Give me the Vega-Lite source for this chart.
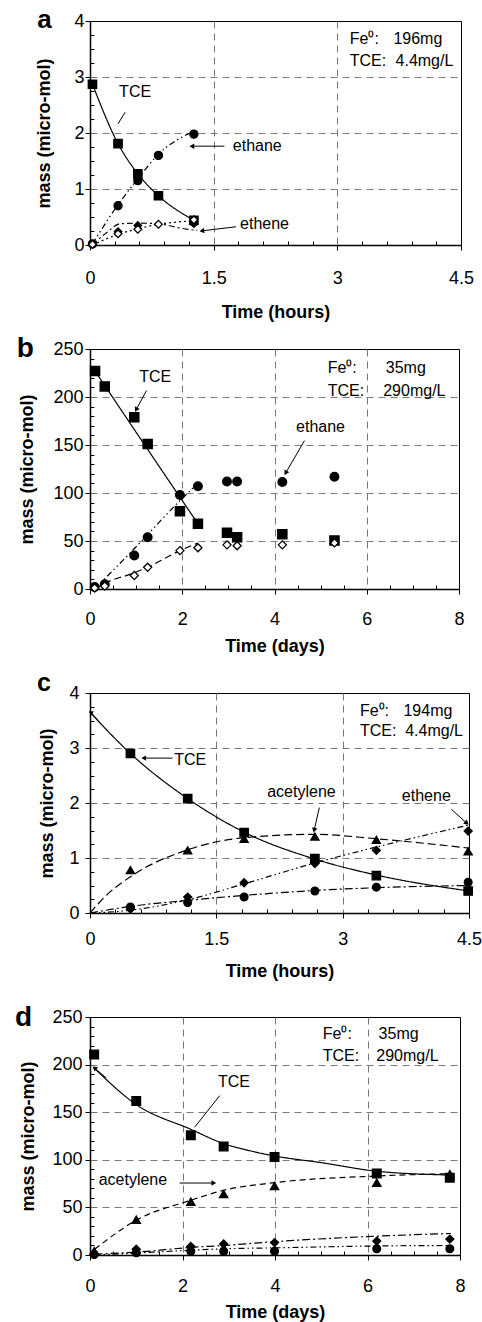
{
"$schema":"https://vega.github.io/schema/vega-lite/v6.json",
"padding":{"left":14,"top":6,"right":0,"bottom":0},
"autosize":{"type":"pad"},
"bounds":"flush",
"spacing":104,
"resolve":{"scale":{"x":"independent","y":"independent","strokeDash":"independent","shape":"independent","fill":"independent","size":"independent"}},
"config":{
 "view":{"stroke":"black","strokeWidth":1},
 "axis":{"labelFont":"Liberation Sans","titleFont":"Liberation Sans","labelColor":"black","titleColor":"black","labelFontSize":18,"titleFontSize":18,"titleFontWeight":"bold","domainColor":"black","domainWidth":1.5,"tickColor":"black","tickWidth":1,"gridColor":"#777","gridDash":[7,5],"gridWidth":1,"labelFlush":false,"labelOverlap":false,"labelBound":false},
 "text":{"font":"Liberation Sans","color":"black"}
},
"datasets":{
"obs":[
{"panel":"a","species":"TCE","t":0.03,"m":2.87},{"panel":"a","species":"TCE","t":0.34,"m":1.81},{"panel":"a","species":"TCE","t":0.58,"m":1.27},{"panel":"a","species":"TCE","t":0.83,"m":0.88},{"panel":"a","species":"TCE","t":1.26,"m":0.44},
{"panel":"a","species":"ethane","t":0.03,"m":0.02},{"panel":"a","species":"ethane","t":0.34,"m":0.70},{"panel":"a","species":"ethane","t":0.58,"m":1.15},{"panel":"a","species":"ethane","t":0.83,"m":1.60},{"panel":"a","species":"ethane","t":1.26,"m":1.98},
{"panel":"a","species":"unlabeled","t":0.34,"m":0.24},{"panel":"a","species":"unlabeled","t":0.58,"m":0.35},{"panel":"a","species":"unlabeled","t":1.26,"m":0.38},
{"panel":"a","species":"ethene","t":0.03,"m":0.01},{"panel":"a","species":"ethene","t":0.34,"m":0.20},{"panel":"a","species":"ethene","t":0.58,"m":0.28},{"panel":"a","species":"ethene","t":0.83,"m":0.37},{"panel":"a","species":"ethene","t":1.26,"m":0.45},
{"panel":"b","species":"TCE","t":0.11,"m":227},{"panel":"b","species":"TCE","t":0.32,"m":211},{"panel":"b","species":"TCE","t":0.96,"m":179},{"panel":"b","species":"TCE","t":1.25,"m":151},{"panel":"b","species":"TCE","t":1.95,"m":81},{"panel":"b","species":"TCE","t":2.34,"m":68},{"panel":"b","species":"TCE","t":2.97,"m":58.5},{"panel":"b","species":"TCE","t":3.19,"m":54},{"panel":"b","species":"TCE","t":4.17,"m":57},{"panel":"b","species":"TCE","t":5.3,"m":50.5},
{"panel":"b","species":"ethane","t":0.1,"m":2},{"panel":"b","species":"ethane","t":0.32,"m":5},{"panel":"b","species":"ethane","t":0.96,"m":35},{"panel":"b","species":"ethane","t":1.25,"m":54},{"panel":"b","species":"ethane","t":1.95,"m":98},{"panel":"b","species":"ethane","t":2.34,"m":107},{"panel":"b","species":"ethane","t":2.97,"m":112},{"panel":"b","species":"ethane","t":3.19,"m":112},{"panel":"b","species":"ethane","t":4.17,"m":111.5},{"panel":"b","species":"ethane","t":5.3,"m":117},
{"panel":"b","species":"ethene","t":0.1,"m":1},{"panel":"b","species":"ethene","t":0.32,"m":3},{"panel":"b","species":"ethene","t":0.96,"m":14},{"panel":"b","species":"ethene","t":1.25,"m":22.6},{"panel":"b","species":"ethene","t":1.95,"m":40},{"panel":"b","species":"ethene","t":2.34,"m":43},{"panel":"b","species":"ethene","t":2.97,"m":46},{"panel":"b","species":"ethene","t":3.19,"m":45},{"panel":"b","species":"ethene","t":4.17,"m":46},{"panel":"b","species":"ethene","t":5.3,"m":48},
{"panel":"c","species":"TCE","t":0.48,"m":2.90},{"panel":"c","species":"TCE","t":1.16,"m":2.08},{"panel":"c","species":"TCE","t":1.83,"m":1.46},{"panel":"c","species":"TCE","t":2.67,"m":0.99},{"panel":"c","species":"TCE","t":3.40,"m":0.68},{"panel":"c","species":"TCE","t":4.49,"m":0.40},
{"panel":"c","species":"acetylene","t":0.48,"m":0.78},{"panel":"c","species":"acetylene","t":1.16,"m":1.14},{"panel":"c","species":"acetylene","t":1.83,"m":1.35},{"panel":"c","species":"acetylene","t":2.67,"m":1.39},{"panel":"c","species":"acetylene","t":3.40,"m":1.33},{"panel":"c","species":"acetylene","t":4.49,"m":1.12},
{"panel":"c","species":"ethene","t":0.48,"m":0.07},{"panel":"c","species":"ethene","t":1.16,"m":0.29},{"panel":"c","species":"ethene","t":1.83,"m":0.55},{"panel":"c","species":"ethene","t":2.67,"m":0.90},{"panel":"c","species":"ethene","t":3.40,"m":1.14},{"panel":"c","species":"ethene","t":4.49,"m":1.49},
{"panel":"c","species":"ethane","t":0.48,"m":0.11},{"panel":"c","species":"ethane","t":1.16,"m":0.19},{"panel":"c","species":"ethane","t":1.83,"m":0.29},{"panel":"c","species":"ethane","t":2.67,"m":0.40},{"panel":"c","species":"ethane","t":3.40,"m":0.47},{"panel":"c","species":"ethane","t":4.49,"m":0.56},
{"panel":"d","species":"TCE","t":0.09,"m":210.6},{"panel":"d","species":"TCE","t":1.0,"m":161.7},{"panel":"d","species":"TCE","t":2.18,"m":125.7},{"panel":"d","species":"TCE","t":2.89,"m":114},{"panel":"d","species":"TCE","t":3.99,"m":103},{"panel":"d","species":"TCE","t":6.2,"m":85.5},{"panel":"d","species":"TCE","t":7.78,"m":81.2},
{"panel":"d","species":"acetylene","t":0.09,"m":4},{"panel":"d","species":"acetylene","t":1.0,"m":37},{"panel":"d","species":"acetylene","t":2.18,"m":56},{"panel":"d","species":"acetylene","t":2.89,"m":64},{"panel":"d","species":"acetylene","t":3.99,"m":72.5},{"panel":"d","species":"acetylene","t":6.2,"m":76},{"panel":"d","species":"acetylene","t":7.78,"m":85},
{"panel":"d","species":"ethene","t":0.09,"m":1},{"panel":"d","species":"ethene","t":1.0,"m":6},{"panel":"d","species":"ethene","t":2.18,"m":9},{"panel":"d","species":"ethene","t":2.89,"m":11.5},{"panel":"d","species":"ethene","t":3.99,"m":13},{"panel":"d","species":"ethene","t":6.2,"m":14.6},{"panel":"d","species":"ethene","t":7.78,"m":16.7},
{"panel":"d","species":"ethane","t":0.09,"m":0.5},{"panel":"d","species":"ethane","t":1.0,"m":2.4},{"panel":"d","species":"ethane","t":2.18,"m":4},{"panel":"d","species":"ethane","t":2.89,"m":4},{"panel":"d","species":"ethane","t":3.99,"m":4},{"panel":"d","species":"ethane","t":6.2,"m":6.5},{"panel":"d","species":"ethane","t":7.78,"m":6.5}
],
"fit":[
{"panel":"a","species":"TCE","t":0.03,"m":2.87},{"panel":"a","species":"TCE","t":0.34,"m":1.81},{"panel":"a","species":"TCE","t":0.58,"m":1.27},{"panel":"a","species":"TCE","t":0.83,"m":0.88},{"panel":"a","species":"TCE","t":1.26,"m":0.44},
{"panel":"a","species":"ethane","t":0.03,"m":0.02},{"panel":"a","species":"ethane","t":0.34,"m":0.72},{"panel":"a","species":"ethane","t":0.58,"m":1.18},{"panel":"a","species":"ethane","t":0.83,"m":1.62},{"panel":"a","species":"ethane","t":1.29,"m":2.05},
{"panel":"a","species":"ethene","t":0.03,"m":0.0},{"panel":"a","species":"ethene","t":0.34,"m":0.19},{"panel":"a","species":"ethene","t":0.58,"m":0.29},{"panel":"a","species":"ethene","t":0.83,"m":0.37},{"panel":"a","species":"ethene","t":1.26,"m":0.43},
{"panel":"a","species":"unlabeled","t":0.03,"m":0.0},{"panel":"a","species":"unlabeled","t":0.2,"m":0.22},{"panel":"a","species":"unlabeled","t":0.37,"m":0.38},{"panel":"a","species":"unlabeled","t":0.6,"m":0.39},{"panel":"a","species":"unlabeled","t":0.83,"m":0.38},{"panel":"a","species":"unlabeled","t":1.1,"m":0.30},{"panel":"a","species":"unlabeled","t":1.3,"m":0.26},
{"panel":"b","species":"TCE","t":0.11,"m":227},{"panel":"b","species":"TCE","t":1.2,"m":149},{"panel":"b","species":"TCE","t":2.34,"m":68},
{"panel":"b","species":"ethane","t":0.1,"m":0},{"panel":"b","species":"ethane","t":1.0,"m":44},{"panel":"b","species":"ethane","t":1.95,"m":92},{"panel":"b","species":"ethane","t":2.34,"m":110},
{"panel":"b","species":"ethene","t":0.1,"m":0},{"panel":"b","species":"ethene","t":0.32,"m":6},{"panel":"b","species":"ethene","t":0.97,"m":17},{"panel":"b","species":"ethene","t":1.26,"m":23},{"panel":"b","species":"ethene","t":1.95,"m":40},{"panel":"b","species":"ethene","t":2.34,"m":48},
{"panel":"c","species":"TCE","t":0,"m":3.65},{"panel":"c","species":"TCE","t":0.48,"m":2.90},{"panel":"c","species":"TCE","t":1.16,"m":2.08},{"panel":"c","species":"TCE","t":1.83,"m":1.47},{"panel":"c","species":"TCE","t":2.67,"m":0.98},{"panel":"c","species":"TCE","t":3.4,"m":0.69},{"panel":"c","species":"TCE","t":4.5,"m":0.40},
{"panel":"c","species":"acetylene","t":0,"m":0},{"panel":"c","species":"acetylene","t":0.2,"m":0.33},{"panel":"c","species":"acetylene","t":0.48,"m":0.66},{"panel":"c","species":"acetylene","t":1.16,"m":1.15},{"panel":"c","species":"acetylene","t":1.83,"m":1.37},{"panel":"c","species":"acetylene","t":2.67,"m":1.43},{"panel":"c","species":"acetylene","t":3.4,"m":1.35},{"panel":"c","species":"acetylene","t":4.5,"m":1.18},
{"panel":"c","species":"ethene","t":0,"m":0},{"panel":"c","species":"ethene","t":0.48,"m":0.05},{"panel":"c","species":"ethene","t":1.16,"m":0.24},{"panel":"c","species":"ethene","t":1.83,"m":0.53},{"panel":"c","species":"ethene","t":2.67,"m":0.91},{"panel":"c","species":"ethene","t":3.4,"m":1.2},{"panel":"c","species":"ethene","t":4.5,"m":1.6},
{"panel":"c","species":"ethane","t":0,"m":0},{"panel":"c","species":"ethane","t":0.48,"m":0.12},{"panel":"c","species":"ethane","t":1.16,"m":0.23},{"panel":"c","species":"ethane","t":1.83,"m":0.32},{"panel":"c","species":"ethane","t":2.67,"m":0.41},{"panel":"c","species":"ethane","t":3.4,"m":0.46},{"panel":"c","species":"ethane","t":4.5,"m":0.5},
{"panel":"d","species":"TCE","t":0.12,"m":195},{"panel":"d","species":"TCE","t":1.0,"m":158},{"panel":"d","species":"TCE","t":2.18,"m":132},{"panel":"d","species":"TCE","t":2.89,"m":117},{"panel":"d","species":"TCE","t":3.5,"m":109},{"panel":"d","species":"TCE","t":3.99,"m":104},{"panel":"d","species":"TCE","t":5.0,"m":97},{"panel":"d","species":"TCE","t":6.2,"m":88},{"panel":"d","species":"TCE","t":7.8,"m":84},
{"panel":"d","species":"acetylene","t":0.1,"m":6},{"panel":"d","species":"acetylene","t":1.0,"m":36.6},{"panel":"d","species":"acetylene","t":2.18,"m":57.5},{"panel":"d","species":"acetylene","t":2.89,"m":68},{"panel":"d","species":"acetylene","t":3.99,"m":76},{"panel":"d","species":"acetylene","t":6.2,"m":83},{"panel":"d","species":"acetylene","t":7.8,"m":85.4},
{"panel":"d","species":"ethene","t":0.1,"m":1},{"panel":"d","species":"ethene","t":1.0,"m":3},{"panel":"d","species":"ethene","t":2.18,"m":8},{"panel":"d","species":"ethene","t":2.89,"m":10},{"panel":"d","species":"ethene","t":3.99,"m":14},{"panel":"d","species":"ethene","t":6.2,"m":19.8},{"panel":"d","species":"ethene","t":7.8,"m":22.6},
{"panel":"d","species":"ethane","t":0.1,"m":0},{"panel":"d","species":"ethane","t":1.0,"m":2},{"panel":"d","species":"ethane","t":2.18,"m":5},{"panel":"d","species":"ethane","t":2.89,"m":6.5},{"panel":"d","species":"ethane","t":3.99,"m":7.5},{"panel":"d","species":"ethane","t":6.2,"m":9.5},{"panel":"d","species":"ethane","t":7.8,"m":10}
],
"notes":[
{"panel":"a","text":"TCE","t":0.353,"m":2.725},{"panel":"a","text":"ethane","t":1.732,"m":1.765},{"panel":"a","text":"ethene","t":1.82,"m":0.368},{"panel":"a","text":"Fe⁰:","t":3.151,"m":3.685},{"panel":"a","text":"196mg","t":3.68,"m":3.685},{"panel":"a","text":"TCE:","t":3.151,"m":3.289},{"panel":"a","text":"4.4mg/L","t":3.706,"m":3.289},
{"panel":"b","text":"TCE","t":1.066,"m":220.4},{"panel":"b","text":"ethane","t":4.467,"m":169},{"panel":"b","text":"Fe⁰:","t":5.153,"m":229.8},{"panel":"b","text":"35mg","t":6.413,"m":229.8},{"panel":"b","text":"TCE:","t":5.153,"m":206.6},{"panel":"b","text":"290mg/L","t":6.357,"m":206.6},
{"panel":"c","text":"TCE","t":0.999,"m":2.785},{"panel":"c","text":"acetylene","t":2.104,"m":2.208},{"panel":"c","text":"ethene","t":3.703,"m":2.128},{"panel":"c","text":"Fe⁰:","t":3.205,"m":3.668},{"panel":"c","text":"194mg","t":3.722,"m":3.668},{"panel":"c","text":"TCE:","t":3.205,"m":3.303},{"panel":"c","text":"4.4mg/L","t":3.742,"m":3.303},
{"panel":"d","text":"TCE","t":2.768,"m":181.3},{"panel":"d","text":"acetylene","t":0.187,"m":78.5},{"panel":"d","text":"Fe⁰:","t":5.033,"m":232.5},{"panel":"d","text":"35mg","t":6.24,"m":232.5},{"panel":"d","text":"TCE:","t":5.033,"m":209.2},{"panel":"d","text":"290mg/L","t":6.19,"m":209.2}
],
"letters":[
{"panel":"a","text":"a","t":-0.641,"m":3.88},{"panel":"b","text":"b","t":-1.587,"m":241.2},{"panel":"c","text":"c","t":-0.628,"m":4.044},{"panel":"d","text":"d","t":-1.62,"m":240.6}
],
"arrows":[
{"panel":"a","id":"tce","t":0.34,"m":2.164,"t2":0.426,"m2":2.37},
{"panel":"a","id":"ethane","t":1.63,"m":1.765,"t2":1.245,"m2":1.765},
{"panel":"a","id":"ethene","t":1.771,"m":0.325,"t2":1.366,"m2":0.254},
{"panel":"b","id":"tce","t":1.224,"m":206.6,"t2":1.008,"m2":187.5},
{"panel":"b","id":"ethane","t":4.649,"m":154.5,"t2":4.251,"m2":121.5},
{"panel":"c","id":"tce","t":0.979,"m":2.816,"t2":0.647,"m2":2.816},
{"panel":"c","id":"acetylene","t":2.723,"m":1.916,"t2":2.664,"m2":1.52},
{"panel":"c","id":"ethene","t":4.291,"m":1.885,"t2":4.467,"m2":1.642},
{"panel":"c","id":"tcefit","t":0.1,"m":3.5,"t2":0.015,"m2":3.64},
{"panel":"d","id":"tce","t":2.805,"m":167.4,"t2":2.262,"m2":134.2},
{"panel":"d","id":"acetylene","t":1.937,"m":75.6,"t2":2.66,"m2":75.6},
{"panel":"d","id":"tcefit","t":0.35,"m":186,"t2":0.11,"m2":196}
]
},
"vconcat":[
{
"width":371,"height":224,
"encoding":{
 "x":{"field":"t","type":"quantitative","scale":{"domain":[0,4.5],"nice":false,"zero":false},"axis":{"values":[0,0.3,0.6,0.9,1.2,1.5,1.8,2.1,2.4,2.7,3,3.3,3.6,3.9,4.2,4.5],"labelExpr":"datum.value % 1.5 == 0 ? '' + datum.value : ''","tickSize":{"condition":{"test":"datum.value % 1.5 == 0","value":5},"value":-4},"grid":true,"gridOpacity":{"condition":{"test":"datum.value % 1.5 == 0 && datum.value > 0 && datum.value < 4.5","value":1},"value":0},"labelPadding":19,"title":"Time (hours)","titleY":67,"titleBaseline":"middle"}},
 "y":{"field":"m","type":"quantitative","scale":{"domain":[0,4],"nice":false,"zero":false},"axis":{"values":[0,0.25,0.5,0.75,1,1.25,1.5,1.75,2,2.25,2.5,2.75,3,3.25,3.5,3.75,4],"labelExpr":"datum.value % 1 == 0 ? '' + datum.value : ''","tickSize":{"condition":{"test":"datum.value % 1 == 0","value":5},"value":-4},"grid":true,"gridOpacity":{"condition":{"test":"datum.value % 1 == 0 && datum.value > 0 && datum.value < 4","value":1},"value":0},"labelPadding":1,"title":"mass (micro-mol)","titleX":-46,"titleBaseline":"middle"}}
},
"layer":[
 {"data":{"name":"fit"},"transform":[{"filter":"datum.panel == 'a'"}],"mark":{"type":"line","interpolate":"monotone","color":"black","strokeWidth":1.2},"encoding":{"strokeDash":{"field":"species","type":"nominal","scale":{"domain":["TCE","ethane","ethene","unlabeled"],"range":[[1,0],[6,3,1.5,3,1.5,3],[2,3],[6,3,2,3]]},"legend":null}}},
 {"data":{"name":"arrows"},"transform":[{"filter":"datum.panel == 'a'"}],"mark":{"type":"rule","color":"black","strokeWidth":1},"encoding":{"x2":{"field":"t2"},"y2":{"field":"m2"}}},
 {"data":{"name":"arrows"},"transform":[{"filter":"datum.panel == 'a' && datum.id == 'ethane'"}],"mark":{"type":"point","shape":"triangle","filled":true,"color":"black","opacity":1,"size":30,"angle":270},"encoding":{"x":{"field":"t2","type":"quantitative"},"y":{"field":"m2","type":"quantitative"}}},
 {"data":{"name":"arrows"},"transform":[{"filter":"datum.panel == 'a' && datum.id == 'ethene'"}],"mark":{"type":"point","shape":"triangle","filled":true,"color":"black","opacity":1,"size":30,"angle":263},"encoding":{"x":{"field":"t2","type":"quantitative"},"y":{"field":"m2","type":"quantitative"}}},
 {"data":{"name":"obs"},"transform":[{"filter":"datum.panel == 'a'"}],"mark":{"type":"point","filled":true,"stroke":"black","strokeWidth":1.3,"opacity":1},"encoding":{"shape":{"field":"species","type":"nominal","scale":{"domain":["TCE","ethane","ethene","unlabeled"],"range":["square","circle","diamond","diamond"]},"legend":null},"fill":{"field":"species","type":"nominal","scale":{"domain":["TCE","ethane","ethene","unlabeled"],"range":["black","black","white","black"]},"legend":null},"size":{"field":"species","type":"nominal","scale":{"domain":["TCE","ethane","ethene","unlabeled"],"range":[70,55,50,50]},"legend":null}}},
 {"data":{"name":"notes"},"transform":[{"filter":"datum.panel == 'a'"}],"mark":{"type":"text","align":"left","baseline":"middle","fontSize":16},"encoding":{"text":{"field":"text"}}},
 {"data":{"name":"letters"},"transform":[{"filter":"datum.panel == 'a'"}],"mark":{"type":"text","align":"left","baseline":"alphabetic","fontSize":26,"fontWeight":"bold"},"encoding":{"text":{"field":"text"}}}
]
},
{
"width":369,"height":240,
"encoding":{
 "x":{"field":"t","type":"quantitative","scale":{"domain":[0,8],"nice":false,"zero":false},"axis":{"values":[0,0.5,1,1.5,2,2.5,3,3.5,4,4.5,5,5.5,6,6.5,7,7.5,8],"labelExpr":"datum.value % 2 == 0 ? '' + datum.value : ''","tickSize":{"condition":{"test":"datum.value % 2 == 0","value":5},"value":-4},"grid":true,"gridOpacity":{"condition":{"test":"datum.value % 2 == 0 && datum.value > 0 && datum.value < 8","value":1},"value":0},"labelPadding":16,"title":"Time (days)","titleY":57,"titleBaseline":"middle"}},
 "y":{"field":"m","type":"quantitative","scale":{"domain":[0,250],"nice":false,"zero":false},"axis":{"values":[0,10,20,30,40,50,60,70,80,90,100,110,120,130,140,150,160,170,180,190,200,210,220,230,240,250],"labelExpr":"datum.value % 50 == 0 ? '' + datum.value : ''","tickSize":{"condition":{"test":"datum.value % 50 == 0","value":5},"value":-4},"grid":true,"gridOpacity":{"condition":{"test":"datum.value % 50 == 0 && datum.value > 0 && datum.value < 250","value":1},"value":0},"labelPadding":2,"title":"mass (micro-mol)","titleX":-63,"titleBaseline":"middle"}}
},
"layer":[
 {"data":{"name":"fit"},"transform":[{"filter":"datum.panel == 'b'"}],"mark":{"type":"line","interpolate":"monotone","color":"black","strokeWidth":1.2},"encoding":{"strokeDash":{"field":"species","type":"nominal","scale":{"domain":["TCE","ethane","ethene"],"range":[[1,0],[6,3,1.5,3,1.5,3],[7,4]]},"legend":null}}},
 {"data":{"name":"arrows"},"transform":[{"filter":"datum.panel == 'b'"}],"mark":{"type":"rule","color":"black","strokeWidth":1},"encoding":{"x2":{"field":"t2"},"y2":{"field":"m2"}}},
 {"data":{"name":"arrows"},"transform":[{"filter":"datum.panel == 'b' && datum.id == 'tce'"}],"mark":{"type":"point","shape":"triangle","filled":true,"color":"black","opacity":1,"size":30,"angle":209},"encoding":{"x":{"field":"t2","type":"quantitative"},"y":{"field":"m2","type":"quantitative"}}},
 {"data":{"name":"arrows"},"transform":[{"filter":"datum.panel == 'b' && datum.id == 'ethane'"}],"mark":{"type":"point","shape":"triangle","filled":true,"color":"black","opacity":1,"size":30,"angle":210},"encoding":{"x":{"field":"t2","type":"quantitative"},"y":{"field":"m2","type":"quantitative"}}},
 {"data":{"name":"obs"},"transform":[{"filter":"datum.panel == 'b'"}],"mark":{"type":"point","filled":true,"stroke":"black","strokeWidth":1.3,"opacity":1},"encoding":{"shape":{"field":"species","type":"nominal","scale":{"domain":["TCE","ethane","ethene"],"range":["square","circle","diamond"]},"legend":null},"fill":{"field":"species","type":"nominal","scale":{"domain":["TCE","ethane","ethene"],"range":["black","black","white"]},"legend":null},"size":{"field":"species","type":"nominal","scale":{"domain":["TCE","ethane","ethene"],"range":[85,65,55]},"legend":null}}},
 {"data":{"name":"notes"},"transform":[{"filter":"datum.panel == 'b'"}],"mark":{"type":"text","align":"left","baseline":"middle","fontSize":16},"encoding":{"text":{"field":"text"}}},
 {"data":{"name":"letters"},"transform":[{"filter":"datum.panel == 'b'"}],"mark":{"type":"text","align":"left","baseline":"alphabetic","fontSize":28,"fontWeight":"bold"},"encoding":{"text":{"field":"text"}}}
]
},
{
"width":379,"height":220,
"encoding":{
 "x":{"field":"t","type":"quantitative","scale":{"domain":[0,4.5],"nice":false,"zero":false},"axis":{"values":[0,0.3,0.6,0.9,1.2,1.5,1.8,2.1,2.4,2.7,3,3.3,3.6,3.9,4.2,4.5],"labelExpr":"datum.value % 1.5 == 0 ? '' + datum.value : ''","tickSize":{"condition":{"test":"datum.value % 1.5 == 0","value":5},"value":-4},"grid":true,"gridOpacity":{"condition":{"test":"datum.value % 1.5 == 0 && datum.value > 0 && datum.value < 4.5","value":1},"value":0},"labelPadding":12,"title":"Time (hours)","titleY":58,"titleBaseline":"middle"}},
 "y":{"field":"m","type":"quantitative","scale":{"domain":[0,4],"nice":false,"zero":false},"axis":{"values":[0,0.25,0.5,0.75,1,1.25,1.5,1.75,2,2.25,2.5,2.75,3,3.25,3.5,3.75,4],"labelExpr":"datum.value % 1 == 0 ? '' + datum.value : ''","tickSize":{"condition":{"test":"datum.value % 1 == 0","value":5},"value":-4},"grid":true,"gridOpacity":{"condition":{"test":"datum.value % 1 == 0 && datum.value > 0 && datum.value < 4","value":1},"value":0},"labelPadding":6,"title":"mass (micro-mol)","titleX":-43,"titleBaseline":"middle"}}
},
"layer":[
 {"data":{"name":"fit"},"transform":[{"filter":"datum.panel == 'c'"}],"mark":{"type":"line","interpolate":"monotone","color":"black","strokeWidth":1.2},"encoding":{"strokeDash":{"field":"species","type":"nominal","scale":{"domain":["TCE","acetylene","ethene","ethane"],"range":[[1,0],[8,4],[6,3,1.5,3,1.5,3],[8,3,2,3]]},"legend":null}}},
 {"data":{"name":"arrows"},"transform":[{"filter":"datum.panel == 'c'"}],"mark":{"type":"rule","color":"black","strokeWidth":1},"encoding":{"x2":{"field":"t2"},"y2":{"field":"m2"}}},
 {"data":{"name":"arrows"},"transform":[{"filter":"datum.panel == 'c' && datum.id == 'tce'"}],"mark":{"type":"point","shape":"triangle","filled":true,"color":"black","opacity":1,"size":30,"angle":270},"encoding":{"x":{"field":"t2","type":"quantitative"},"y":{"field":"m2","type":"quantitative"}}},
 {"data":{"name":"arrows"},"transform":[{"filter":"datum.panel == 'c' && datum.id == 'acetylene'"}],"mark":{"type":"point","shape":"triangle","filled":true,"color":"black","opacity":1,"size":30,"angle":193},"encoding":{"x":{"field":"t2","type":"quantitative"},"y":{"field":"m2","type":"quantitative"}}},
 {"data":{"name":"arrows"},"transform":[{"filter":"datum.panel == 'c' && datum.id == 'ethene'"}],"mark":{"type":"point","shape":"triangle","filled":true,"color":"black","opacity":1,"size":30,"angle":132},"encoding":{"x":{"field":"t2","type":"quantitative"},"y":{"field":"m2","type":"quantitative"}}},
 {"data":{"name":"arrows"},"transform":[{"filter":"datum.panel == 'c' && datum.id == 'tcefit'"}],"mark":{"type":"point","shape":"triangle","filled":true,"color":"black","opacity":1,"size":25,"angle":300},"encoding":{"x":{"field":"t2","type":"quantitative"},"y":{"field":"m2","type":"quantitative"}}},
 {"data":{"name":"obs"},"transform":[{"filter":"datum.panel == 'c'"}],"mark":{"type":"point","filled":true,"stroke":"black","strokeWidth":1.3,"opacity":1},"encoding":{"shape":{"field":"species","type":"nominal","scale":{"domain":["TCE","acetylene","ethene","ethane"],"range":["square","triangle-up","diamond","circle"]},"legend":null},"fill":{"field":"species","type":"nominal","scale":{"domain":["TCE","acetylene","ethene","ethane"],"range":["black","black","black","black"]},"legend":null},"size":{"field":"species","type":"nominal","scale":{"domain":["TCE","acetylene","ethene","ethane"],"range":[70,60,50,55]},"legend":null}}},
 {"data":{"name":"notes"},"transform":[{"filter":"datum.panel == 'c'"}],"mark":{"type":"text","align":"left","baseline":"middle","fontSize":16},"encoding":{"text":{"field":"text"}}},
 {"data":{"name":"letters"},"transform":[{"filter":"datum.panel == 'c'"}],"mark":{"type":"text","align":"left","baseline":"alphabetic","fontSize":25,"fontWeight":"bold"},"encoding":{"text":{"field":"text"}}}
]
},
{
"width":370,"height":238,
"encoding":{
 "x":{"field":"t","type":"quantitative","scale":{"domain":[0,8],"nice":false,"zero":false},"axis":{"values":[0,0.5,1,1.5,2,2.5,3,3.5,4,4.5,5,5.5,6,6.5,7,7.5,8],"labelExpr":"datum.value % 2 == 0 ? '' + datum.value : ''","tickSize":{"condition":{"test":"datum.value % 2 == 0","value":5},"value":-4},"grid":true,"gridOpacity":{"condition":{"test":"datum.value % 2 == 0 && datum.value > 0 && datum.value < 8","value":1},"value":0},"labelPadding":17,"title":"Time (days)","titleY":57,"titleBaseline":"middle"}},
 "y":{"field":"m","type":"quantitative","scale":{"domain":[0,250],"nice":false,"zero":false},"axis":{"values":[0,10,20,30,40,50,60,70,80,90,100,110,120,130,140,150,160,170,180,190,200,210,220,230,240,250],"labelExpr":"datum.value % 50 == 0 ? '' + datum.value : ''","tickSize":{"condition":{"test":"datum.value % 50 == 0","value":5},"value":-4},"grid":true,"gridOpacity":{"condition":{"test":"datum.value % 50 == 0 && datum.value > 0 && datum.value < 250","value":1},"value":0},"labelPadding":3,"title":"mass (micro-mol)","titleX":-62,"titleBaseline":"middle"}}
},
"layer":[
 {"data":{"name":"fit"},"transform":[{"filter":"datum.panel == 'd'"}],"mark":{"type":"line","interpolate":"monotone","color":"black","strokeWidth":1.2},"encoding":{"strokeDash":{"field":"species","type":"nominal","scale":{"domain":["TCE","acetylene","ethene","ethane"],"range":[[1,0],[6,4],[8,3,2,3],[6,3,1.5,3,1.5,3]]},"legend":null}}},
 {"data":{"name":"arrows"},"transform":[{"filter":"datum.panel == 'd'"}],"mark":{"type":"rule","color":"black","strokeWidth":1},"encoding":{"x2":{"field":"t2"},"y2":{"field":"m2"}}},
 {"data":{"name":"arrows"},"transform":[{"filter":"datum.panel == 'd' && datum.id == 'acetylene'"}],"mark":{"type":"point","shape":"triangle","filled":true,"color":"black","opacity":1,"size":30,"angle":90},"encoding":{"x":{"field":"t2","type":"quantitative"},"y":{"field":"m2","type":"quantitative"}}},
 {"data":{"name":"arrows"},"transform":[{"filter":"datum.panel == 'd' && datum.id == 'tcefit'"}],"mark":{"type":"point","shape":"triangle","filled":true,"color":"black","opacity":1,"size":30,"angle":310},"encoding":{"x":{"field":"t2","type":"quantitative"},"y":{"field":"m2","type":"quantitative"}}},
 {"data":{"name":"obs"},"transform":[{"filter":"datum.panel == 'd'"}],"mark":{"type":"point","filled":true,"stroke":"black","strokeWidth":1.3,"opacity":1},"encoding":{"shape":{"field":"species","type":"nominal","scale":{"domain":["TCE","acetylene","ethene","ethane"],"range":["square","triangle-up","diamond","circle"]},"legend":null},"fill":{"field":"species","type":"nominal","scale":{"domain":["TCE","acetylene","ethene","ethane"],"range":["black","black","black","black"]},"legend":null},"size":{"field":"species","type":"nominal","scale":{"domain":["TCE","acetylene","ethene","ethane"],"range":[75,60,50,55]},"legend":null}}},
 {"data":{"name":"notes"},"transform":[{"filter":"datum.panel == 'd'"}],"mark":{"type":"text","align":"left","baseline":"middle","fontSize":16},"encoding":{"text":{"field":"text"}}},
 {"data":{"name":"letters"},"transform":[{"filter":"datum.panel == 'd'"}],"mark":{"type":"text","align":"left","baseline":"alphabetic","fontSize":28,"fontWeight":"bold"},"encoding":{"text":{"field":"text"}}}
]
}
]
}
